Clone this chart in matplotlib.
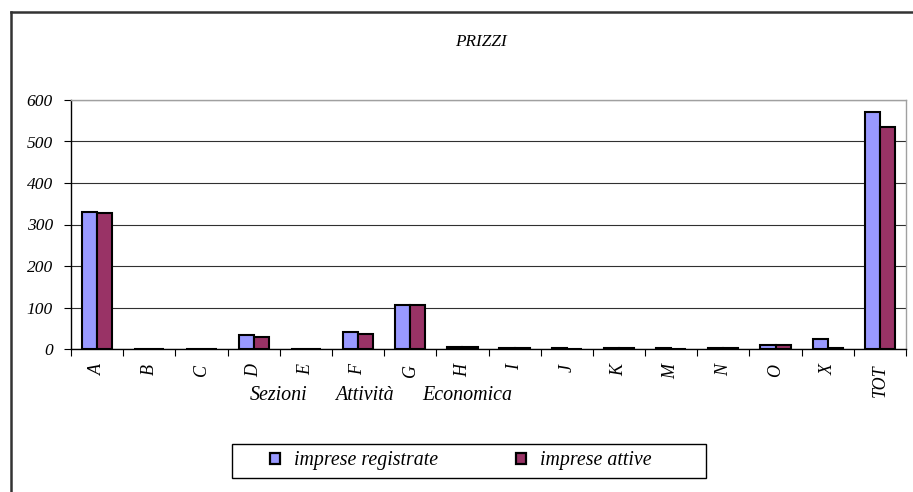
import matplotlib
matplotlib.use("Agg")
import matplotlib.pyplot as plt
import numpy as np
from matplotlib.lines import Line2D
from matplotlib.patches import Patch, Rectangle

categories = ["A", "B", "C", "D", "E", "F", "G", "H", "I", "J", "K", "M", "N", "O", "X", "TOT"]
registrate = [329, 0, 1, 34, 0, 41, 107, 5, 2, 2, 3, 2, 2, 10, 24, 571]
attive = [328, 0, 1, 28, 0, 36, 106, 5, 2, 1, 2, 1, 2, 10, 2, 534]
yticks = [0, 100, 200, 300, 400, 500, 600]
title = "PRIZZI"
xlabel_words = ["Sezioni", "Attività", "Economica"]
series_names = ["imprese registrate", "imprese attive"]

col_reg = "#9999FF"
col_att = "#993366"

plt.rcParams['font.family'] = ['Liberation Serif', 'DejaVu Serif']

W, H = 913, 492
fig = plt.figure(figsize=(W / 100, H / 100), dpi=100)
ax = fig.add_axes([71 / W, 1 - 349 / H, (906 - 71) / W, (349 - 100) / H])

x = np.arange(len(categories))
bw = 0.29
ax.bar(x - bw / 2, registrate, bw, color=col_reg, edgecolor="black", linewidth=1.5, zorder=3)
ax.bar(x + bw / 2, attive, bw, color=col_att, edgecolor="black", linewidth=1.5, zorder=3)

ax.set_xlim(-0.5, len(categories) - 0.5)
ax.set_ylim(0, 600)
ax.set_yticks(yticks)
ax.set_yticklabels([str(v) for v in yticks], fontstyle="italic", fontsize=12.5)
ax.yaxis.grid(True, color="#303030", linewidth=0.8, zorder=0)
ax.set_axisbelow(True)

# category ticks at boundaries, labels at centers
ax.set_xticks(np.arange(len(categories) + 1) - 0.5)
ax.set_xticklabels([])
ax.set_xticks(x, minor=True)
ax.set_xticklabels(categories, minor=True, rotation=90, fontstyle="italic", fontsize=13)
ax.tick_params(axis="x", which="minor", length=0, pad=11)
ax.tick_params(axis="x", which="major", length=5, direction="out", color="black")
ax.tick_params(axis="y", length=5, direction="out", color="black", pad=8)

for s in ["top", "right"]:
    ax.spines[s].set_color("#A0A0A0")
    ax.spines[s].set_linewidth(1.0)
for s in ["left", "bottom"]:
    ax.spines[s].set_color("black")
    ax.spines[s].set_linewidth(1.0)

fig.text(481 / W, 1 - 42 / H, title, ha="center", va="center", fontstyle="italic", fontsize=12.4)
for word, cx in zip(xlabel_words, [279, 364, 467]):
    fig.text(cx / W, 1 - 396 / H, word, ha="center", va="center", fontstyle="italic", fontsize=14.4)

# legend frame
fig.add_artist(Rectangle((232 / W, 1 - 478 / H), (706 - 232) / W, (478 - 444) / H,
                         transform=fig.transFigure, facecolor="white", edgecolor="black",
                         linewidth=1.0, zorder=1))

handles = [Patch(facecolor=col_reg, edgecolor="black", linewidth=1.6),
           Patch(facecolor=col_att, edgecolor="black", linewidth=1.6)]
leg = fig.legend(handles, series_names, loc="center left", bbox_to_anchor=(270 / W, 1 - 461 / H),
                 ncol=2, frameon=False,
                 prop={"style": "italic", "size": 14.3}, handlelength=0.52, handleheight=0.52,
                 columnspacing=3.9, handletextpad=0.7, borderpad=0, borderaxespad=0)
leg.set_zorder(2)

# outer chart frame (left and top edges)
fig.add_artist(Line2D([11 / W, 11 / W], [0, 1 - 12 / H], transform=fig.transFigure, color="#333333", linewidth=1.8))
fig.add_artist(Line2D([11 / W, 1], [1 - 12 / H, 1 - 12 / H], transform=fig.transFigure, color="#333333", linewidth=1.8))

fig.savefig("out.png", dpi=100)
